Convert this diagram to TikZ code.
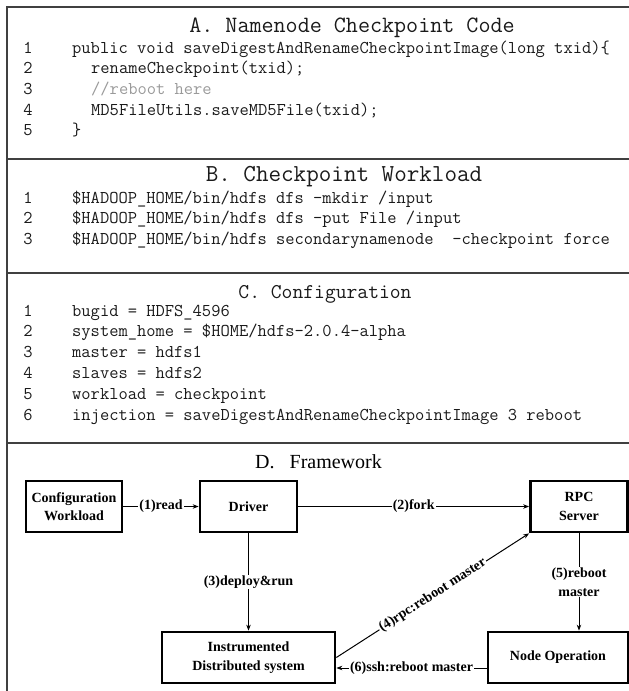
\documentclass[tikz,border=0pt]{standalone}
\usepackage{fontspec}
\setmainfont{Liberation Serif}
\usetikzlibrary{arrows.meta}
\newcommand\mycodefont{\ttfamily\fontsize{18}{21}\selectfont}
\newcommand\mytitlefont{\ttfamily\fontsize{23.4}{27}\selectfont}
\newcommand\myboxfont{\bfseries\fontsize{14}{18.5}\selectfont}
\definecolor{framecol}{HTML}{404040}
\definecolor{commentcol}{HTML}{9A9A9A}
\definecolor{codecol}{HTML}{1A1A1A}
\tikzset{
  num/.style={font=\mycodefont, anchor=base, inner sep=0pt, text=codecol},
  code/.style={font=\mycodefont, anchor=base west, inner sep=0pt, text=codecol},
  ttl/.style={font=\mytitlefont, anchor=base, inner sep=0pt, text=codecol},
  fbox/.style={draw, line width=2.7pt, font=\myboxfont, align=center, inner sep=0pt, minimum height=51pt},
  lbl/.style={font=\myboxfont, fill=white, inner sep=1pt},
  arr/.style={-{Stealth[length=6pt,width=4.5pt]}, line width=1pt},
  frameline/.style={draw=framecol, line width=1.3pt}
}
\begin{document}
\begin{tikzpicture}[x=1pt, y=-1pt]
\useasboundingbox (0,0) rectangle (629,691);
% frame
\draw[frameline] (640,7) -- (7,7) -- (7,700);
\draw[frameline] (7,159) -- (640,159);
\draw[frameline] (7,273) -- (640,273);
\draw[frameline] (7,443) -- (640,443);
% A
\node[ttl] (ta) at (352,32) {A. Namenode Checkpoint Code};
\node[num] (an1) at (28,53) {1};
\node[num] (an2) at (28,73.7) {2};
\node[num] (an3) at (28,94.4) {3};
\node[num] (an4) at (28,115.1) {4};
\node[num] (an5) at (28,135.8) {5};
\node[code] (ac1) at (72,53) {public void saveDigestAndRenameCheckpointImage(long txid)\{};
\node[code] (ac2) at (91,73.7) {renameCheckpoint(txid);};
\node[code, text=commentcol] (ac3) at (91,94.4) {//reboot here};
\node[code] (ac4) at (91,115.1) {MD5FileUtils.saveMD5File(txid);};
\node[code] (ac5) at (72,135.8) {\}};
% B
\node[ttl, font=\ttfamily\fontsize{24.4}{28}\selectfont] (tb) at (344,181.5) {B. Checkpoint Workload};
\node[num] (bn1) at (28,203) {1};
\node[num] (bn2) at (28,223.7) {2};
\node[num] (bn3) at (28,244.4) {3};
\node[code] (bc1) at (72,203) {\$HADOOP\_HOME/bin/hdfs dfs -mkdir /input};
\node[code] (bc2) at (72,223.7) {\$HADOOP\_HOME/bin/hdfs dfs -put File /input};
\node[code] (bc3) at (72,244.4) {\$HADOOP\_HOME/bin/hdfs secondarynamenode\ \ -checkpoint force};
% C
\node[ttl, font=\ttfamily\fontsize{21}{25}\selectfont] (tc) at (325,298.5) {C. Configuration};
\node[num] (cn1) at (28,316) {1};
\node[num] (cn2) at (28,336.8) {2};
\node[num] (cn3) at (28,357.6) {3};
\node[num] (cn4) at (28,378.4) {4};
\node[num] (cn5) at (28,399.2) {5};
\node[num] (cn6) at (28,420) {6};
\node[code] (cc1) at (72,316) {bugid = HDFS\_4596};
\node[code] (cc2) at (72,336.8) {system\_home = \$HOME/hdfs-2.0.4-alpha};
\node[code] (cc3) at (72,357.6) {master = hdfs1};
\node[code] (cc4) at (72,378.4) {slaves = hdfs2};
\node[code] (cc5) at (72,399.2) {workload = checkpoint};
\node[code] (cc6) at (72,420) {injection = saveDigestAndRenameCheckpointImage 3 reboot};
% D
\node[font=\fontsize{20}{24}\selectfont, anchor=base west, inner sep=0pt] (td) at (255,468) {D.\hspace{15pt}Framework};
\node[fbox, minimum width=96pt] (cfg) at (74,506.5) {Configuration\\Workload};
\node[fbox, minimum width=97pt] (drv) at (248.5,506.5) {Driver};
\node[fbox, minimum width=97pt] (rpc) at (579,506.5) {RPC\\Server};
\node[fbox, minimum width=173pt] (ids) at (248.5,657.5) {Instrumented\\Distributed system};
\node[fbox, minimum width=140pt] (nop) at (558,657.5) {Node Operation};
\draw[arr] (cfg) -- node[lbl] {(1)read} (drv);
\draw[arr] (drv) -- node[lbl] {(2)fork} (rpc);
\draw[arr] (drv) -- node[lbl] {(3)deploy\&run} (ids);
\draw[arr] (ids.east) -- node[lbl, sloped] {(4)rpc:reboot master} (rpc.south west);
\draw[arr] (rpc.south) -- node[lbl, align=center] {(5)reboot\\master} (rpc.south |- nop.north);
\draw[arr] ([yshift=-10.5pt]nop.west) -- node[lbl] {(6)ssh:reboot master} ([yshift=-10.5pt]ids.east);
\end{tikzpicture}
\end{document}
